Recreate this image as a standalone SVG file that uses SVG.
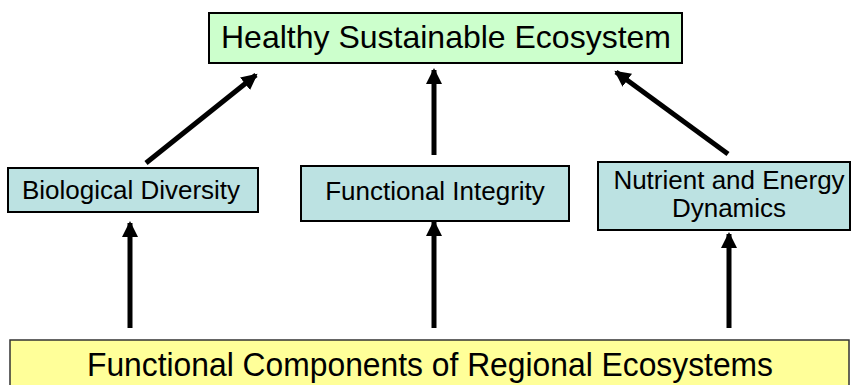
<svg xmlns="http://www.w3.org/2000/svg" width="857" height="385" viewBox="0 0 857 385">
  <style>
    .box { stroke: #000; stroke-width: 2; }
    .goal { fill: #ccffcc; }
    .part { fill: #bce2e2; }
    .base { fill: #ffff99; stroke: #333; stroke-width: 1.5; }
    text { font-family: "Liberation Sans", Arial, sans-serif; fill: #000; text-anchor: middle; }
    .big { font-size: 32px; }
    .mid { font-size: 26px; }
    .arrow { stroke: #000; stroke-width: 5; fill: none; marker-end: url(#head); }
  </style>
  <defs>
    <marker id="head" markerUnits="userSpaceOnUse" markerWidth="18" markerHeight="18" refX="14" refY="8" orient="auto">
      <path d="M0,0 L16,8 L0,16 Z" fill="#000"/>
    </marker>
  </defs>
  <rect width="857" height="385" fill="#fff"/>

  <g id="healthy-ecosystem">
    <rect class="box goal" x="209" y="13" width="473" height="50"/>
    <text class="big" x="446" y="48">Healthy Sustainable Ecosystem</text>
  </g>

  <g id="biological-diversity">
    <rect class="box part" x="8" y="168" width="250" height="44"/>
    <text class="mid" x="131" y="199">Biological Diversity</text>
  </g>

  <g id="functional-integrity">
    <rect class="box part" x="301" y="166" width="268" height="55"/>
    <text class="mid" x="435" y="200">Functional Integrity</text>
  </g>

  <g id="nutrient-energy">
    <rect class="box part" x="598" y="162" width="252" height="68"/>
    <text class="mid" x="729" y="189">Nutrient and Energy</text>
    <text class="mid" x="729" y="217">Dynamics</text>
  </g>

  <g id="functional-components">
    <rect class="base" x="10" y="340" width="839" height="60"/>
    <text x="430" y="376" font-size="33" textLength="686" lengthAdjust="spacingAndGlyphs">Functional Components of Regional Ecosystems</text>
  </g>

  <g id="connectors">
    <line class="arrow" x1="146" y1="163" x2="256" y2="75"/>
    <line class="arrow" x1="434" y1="155" x2="434" y2="70"/>
    <line class="arrow" x1="728" y1="154" x2="616" y2="72"/>
    <line class="arrow" x1="130" y1="328" x2="130" y2="223"/>
    <line class="arrow" x1="434" y1="328" x2="434" y2="222"/>
    <line class="arrow" x1="729" y1="328" x2="729" y2="234"/>
  </g>
</svg>
